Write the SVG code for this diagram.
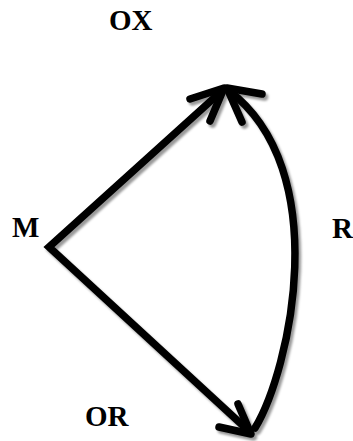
<svg xmlns="http://www.w3.org/2000/svg" width="353" height="441" viewBox="0 0 353 441">
  <defs>
    <filter id="sh" x="-20%" y="-20%" width="140%" height="140%">
      <feDropShadow dx="2.5" dy="3" stdDeviation="1" flood-color="#000" flood-opacity="0.4"/>
    </filter>
    <style>
      .lbl { font-family: "Liberation Serif", "Times New Roman", serif; font-weight: bold; font-size: 29px; fill: #000; }
      .ln { fill: none; stroke: #000; stroke-width: 7.5; }
      .ah { fill: none; stroke: #000; stroke-width: 7.5; stroke-linecap: round; stroke-linejoin: round; }
    </style>
  </defs>
  <rect width="353" height="441" fill="#fff"/>
  <g id="connectors" filter="url(#sh)">
    <polyline class="ln" points="224,89 49,247 251,433" stroke-linejoin="miter"/>
    <path class="ln" d="M255,428 C290,370 335,170 228,90" stroke-linecap="round"/>
    <polyline class="ah" points="190,99 224,88 210,121"/>
    <polyline class="ah" points="262,94 227,88 242,122"/>
    <polyline class="ah" points="219,427 251,434 238,404"/>
  </g>
  <g id="node-OX"><text class="lbl" x="109" y="30">OX</text></g>
  <g id="node-M"><text class="lbl" x="12" y="237">M</text></g>
  <g id="node-R"><text class="lbl" x="332" y="238">R</text></g>
  <g id="node-OR"><text class="lbl" x="85" y="426">OR</text></g>
</svg>
